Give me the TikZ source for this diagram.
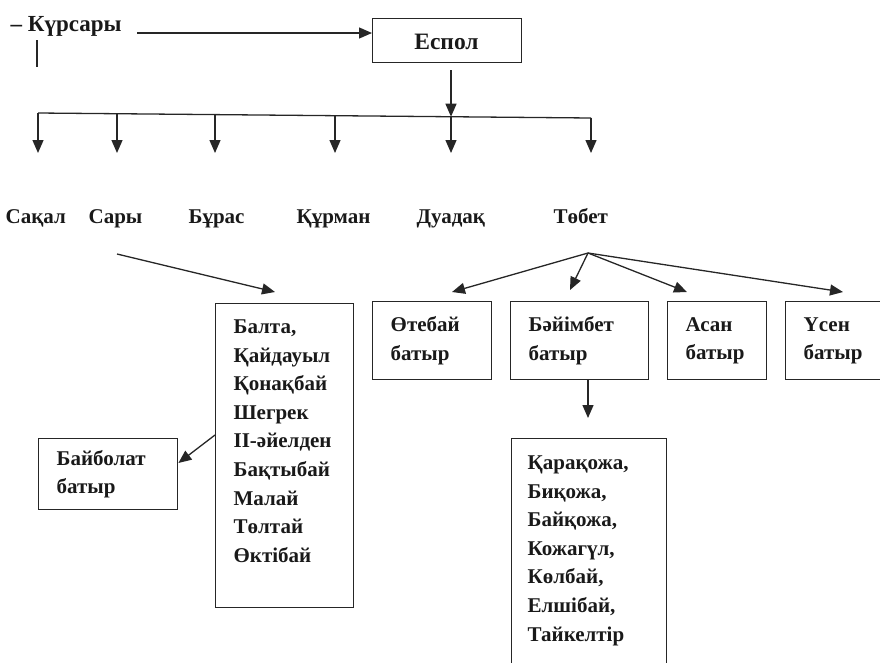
\documentclass[tikz,border=0pt]{standalone}
\usepackage{fontspec}
\setmainfont{Liberation Serif}
\usetikzlibrary{arrows.meta,calc}
\begin{document}
\begin{tikzpicture}[x=1pt,y=-1pt,
  line width=1.3pt, draw=black!85,
  every node/.style={font=\fontsize{21}{28.6}\selectfont\bfseries, text=black!90, inner sep=0pt},
  big/.style={font=\fontsize{23.5}{28.6}\selectfont\bfseries},
  arr/.style={-{Triangle[length=13pt,width=11pt]}},
  box/.style={draw, line width=1.4pt, rectangle},
  lbl/.style={anchor=base west},
  pbox/.style={box, anchor=north west, align=left, inner xsep=18pt, minimum height=78pt}]
\clip (0,0) rectangle (880,662);
% top
\node[lbl, font=\fontsize{23}{28.6}\selectfont\bfseries] (kurs) at (10,31) {– Күрсары};
\coordinate (tickT) at (37,40);
\coordinate (tickB) at (37,67);
\draw (tickT) -- (tickB);
\node[box, anchor=north west, minimum width=149pt, minimum height=44pt] (espol) at (372,18) {};
\node[big, anchor=base] (espoltxt) at (446.5,49) {Еспол};
\coordinate (a1) at (137,33);
\draw[arr] (a1) -- (a1 -| espol.west);
\coordinate (e1) at (451,70);
\coordinate (hD) at (451,116.7);
\draw[arr] (e1) -- (hD);
\coordinate (hL) at (38,113);
\coordinate (hR) at (591,118);
\draw (hL) -- (hR);
% second row labels
\node[lbl] (sakal) at (5,223) {Сақал};
\node[lbl] (sary) at (88,223) {Сары};
\node[lbl] (buras) at (188,223) {Бұрас};
\node[lbl] (kurman) at (296,223) {Құрман};
\node[lbl] (duadak) at (416,223) {Дуадақ};
\node[lbl] (tobet) at (553,223) {Төбет};
\coordinate (s2) at (117,113.7);
\coordinate (s3) at (215,114.6);
\coordinate (s4) at (335,115.7);
\coordinate (t1) at (38,153);
\coordinate (t2) at (117,153);
\coordinate (t3) at (215,153);
\coordinate (t4) at (335,153);
\coordinate (t5) at (451,153);
\coordinate (t6) at (591,153);
\draw[arr] (hL) -- (t1);
\draw[arr] (s2) -- (t2);
\draw[arr] (s3) -- (t3);
\draw[arr] (s4) -- (t4);
\draw[arr] (hD) -- (t5);
\draw[arr] (hR) -- (t6);
% Sary branch
\node[box, anchor=north west, minimum width=138pt, minimum height=304pt] (balta) at (215,303) {};
\node[anchor=north west, align=left] (baltatxt) at (233,319) {Балта,\\Қайдауыл\\Қонақбай\\Шегрек\\II-әйелден\\Бақтыбай\\Малай\\Төлтай\\Өктібай};
\coordinate (sa1) at (117,254);
\coordinate (sa2) at (275,292);
\draw[arr] (sa1) -- (sa2);
\node[pbox, text width=103pt, minimum height=71pt] (baibol) at (38,438) {Байболат\\батыр};
\coordinate (b1) at (0,435);
\coordinate (b2) at (0,463);
\draw[arr] (balta.west |- b1) -- (baibol.east |- b2);
% Tobet branch
\node[pbox, text width=83pt] (otebai) at (372,301) {Өтебай\\батыр};
\node[pbox, text width=102pt] (baiim) at (510,301) {Бәйімбет\\батыр};
\node[pbox, text width=63pt] (asan) at (667,301) {Асан\\батыр};
\node[pbox, text width=84pt] (usen) at (785,301) {Үсен\\батыр};
\coordinate (f0) at (588,253);
\coordinate (f1) at (452,292);
\coordinate (f2) at (570,290);
\coordinate (f3) at (687,292);
\coordinate (f4) at (843,292);
\draw[arr] (f0) -- (f1);
\draw[arr] (f0) -- (f2);
\draw[arr] (f0) -- (f3);
\draw[arr] (f0) -- (f4);
\node[box, anchor=north west, minimum width=155pt, minimum height=260pt] (kara) at (511,438) {};
\node[anchor=north west, align=left] (karatxt) at (527,455) {Қарақожа,\\Биқожа,\\Байқожа,\\Кожагүл,\\Көлбай,\\Елшібай,\\Тайкелтір};
\coordinate (k1) at (588,418);
\draw[arr] (baiim.south -| f0) -- (k1);
\end{tikzpicture}
\end{document}
